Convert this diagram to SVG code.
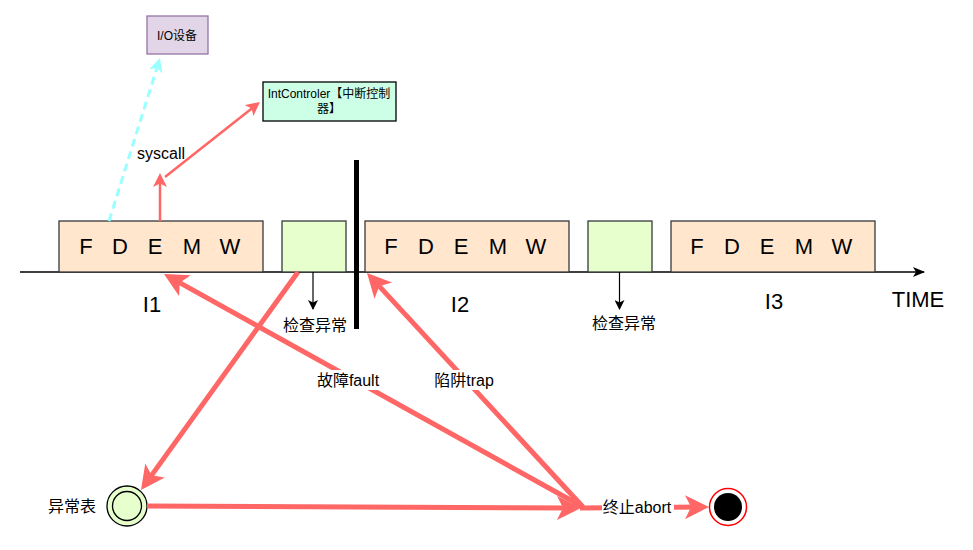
<svg xmlns="http://www.w3.org/2000/svg" width="973" height="550" viewBox="0 0 973 550">
<style>
text{font-family:"Liberation Sans","Noto Sans CJK SC",sans-serif;fill:#000;}
.stage{fill:#ffe6cc;stroke:#36393d;stroke-width:1.3;}
.chk{fill:#e6ffcc;stroke:#36393d;stroke-width:1.3;}
.big{stroke:#ff6666;stroke-width:5;fill:none;}
.mid{stroke:#ff6666;stroke-width:2.5;fill:none;}
.lt{font-size:22px;text-anchor:middle;}
.lbl{font-size:16px;text-anchor:middle;}
.sm{font-size:12px;text-anchor:middle;}
</style>
<defs>
<marker id="aBig" viewBox="0 0 24 24" markerWidth="24" markerHeight="24" refX="18" refY="12" orient="auto" markerUnits="userSpaceOnUse">
<path d="M0,0 L24,12 L0,24 L6,12 Z" fill="#ff6666"/>
</marker>
<marker id="aMid" viewBox="0 0 14 14" markerWidth="14" markerHeight="14" refX="11" refY="7" orient="auto" markerUnits="userSpaceOnUse">
<path d="M0,0 L14,7 L0,14 L3.5,7 Z" fill="#ff6666"/>
</marker>
<marker id="aCyan" viewBox="0 0 14 14" markerWidth="14" markerHeight="14" refX="11" refY="7" orient="auto" markerUnits="userSpaceOnUse">
<path d="M0,0 L14,7 L0,14 L3.5,7 Z" fill="#99ffff"/>
</marker>
<marker id="aBlk" viewBox="0 0 10 10" markerWidth="10" markerHeight="10" refX="9" refY="5" orient="auto" markerUnits="userSpaceOnUse">
<path d="M0,0 L10,5 L0,10 L2.5,5 Z" fill="#000"/>
</marker>
<marker id="aTime" viewBox="0 0 12 10" markerWidth="12" markerHeight="10" refX="11" refY="5" orient="auto" markerUnits="userSpaceOnUse">
<path d="M0,0 L12,5 L0,10 L3,5 Z" fill="#000"/>
</marker>
</defs>

<g id="timeline">
<line x1="20" y1="272" x2="924" y2="272" stroke="#000" stroke-width="1.3" marker-end="url(#aTime)"/>
<text class="lt" x="918" y="307">TIME</text>
</g>

<g id="io">
<rect x="147" y="16" width="61" height="38" fill="#e1d5e7" stroke="#9673a6" stroke-width="1.3"/>
<text class="sm" x="177" y="40">I/O设备</text>
</g>

<g id="intctl">
<rect x="263" y="82" width="133" height="39" fill="#ccffe6" stroke="#000" stroke-width="1.3"/>
<text class="sm" x="329" y="98">IntControler【中断控制</text>
<text class="sm" x="329" y="113">器】</text>
</g>

<g id="I1">
<rect class="stage" x="59" y="221" width="204" height="51"/>
<text class="lt" x="86" y="254">F</text>
<text class="lt" x="120" y="254">D</text>
<text class="lt" x="155" y="254">E</text>
<text class="lt" x="192" y="254">M</text>
<text class="lt" x="230" y="254">W</text>
<text class="lt" x="152" y="312">I1</text>
</g>

<g id="chk1">
<rect class="chk" x="282" y="221" width="64" height="51"/>
<text class="lbl" x="315" y="331">检查异常</text>
</g>

<g id="barrier">
<line x1="356.5" y1="160" x2="356.5" y2="329" stroke="#000" stroke-width="5"/>
</g>

<g id="I2">
<rect class="stage" x="365" y="221" width="204" height="51"/>
<text class="lt" x="391" y="254">F</text>
<text class="lt" x="426" y="254">D</text>
<text class="lt" x="461" y="254">E</text>
<text class="lt" x="498" y="254">M</text>
<text class="lt" x="536" y="254">W</text>
<text class="lt" x="460" y="312">I2</text>
</g>

<g id="chk2">
<rect class="chk" x="588" y="221" width="64" height="51"/>
<text class="lbl" x="624" y="329">检查异常</text>
</g>

<g id="I3">
<rect class="stage" x="671" y="221" width="204" height="51"/>
<text class="lt" x="697" y="254">F</text>
<text class="lt" x="732" y="254">D</text>
<text class="lt" x="767" y="254">E</text>
<text class="lt" x="804" y="254">M</text>
<text class="lt" x="842" y="254">W</text>
<text class="lt" x="774" y="309">I3</text>
</g>

<g id="extable">
<circle cx="127" cy="506" r="20" fill="#e6ffcc" stroke="#000" stroke-width="1.3"/>
<circle cx="127" cy="506" r="14.5" fill="none" stroke="#000" stroke-width="1.3"/>
<text class="lbl" x="72" y="512">异常表</text>
</g>

<g id="end">
<circle cx="728" cy="507" r="18.5" fill="#fff" stroke="#ff0000" stroke-width="1.5"/>
<circle cx="728" cy="507" r="14" fill="#000"/>
</g>

<g id="connectors">
<line x1="313" y1="272" x2="313" y2="309" stroke="#000" stroke-width="1.2" marker-end="url(#aBlk)"/>
<line x1="619.5" y1="272" x2="619.5" y2="309" stroke="#000" stroke-width="1.2" marker-end="url(#aBlk)"/>
<line x1="109" y1="221" x2="159.1" y2="60.9" stroke="#99ffff" stroke-width="3" stroke-dasharray="8 5" marker-end="url(#aCyan)"/>
<line class="mid" x1="160" y1="221" x2="160" y2="176" marker-end="url(#aMid)"/>
<line class="mid" x1="165" y1="177" x2="257.6" y2="103.8" marker-end="url(#aMid)"/>
<text class="lbl" x="161" y="159">syscall</text>
<line class="big" x1="298" y1="272" x2="144.5" y2="485.1" marker-end="url(#aBig)"/>
<line class="big" x1="583" y1="507" x2="169.2" y2="276.9" marker-end="url(#aBig)"/>
<line class="big" x1="583" y1="507" x2="371.1" y2="277.4" marker-end="url(#aBig)"/>
<line class="big" x1="147" y1="506" x2="575" y2="508" marker-end="url(#aBig)"/>
<line class="big" x1="580" y1="508" x2="703" y2="507" marker-end="url(#aBig)"/>
<rect x="316" y="370" width="64" height="20" fill="#fff"/>
<text class="lbl" x="348" y="386">故障fault</text>
<rect x="432" y="370" width="64" height="20" fill="#fff"/>
<text class="lbl" x="464" y="386">陷阱trap</text>
<rect x="602" y="498" width="72" height="18" fill="#fff"/>
<text class="lbl" x="637" y="513">终止abort</text>
</g>
</svg>
